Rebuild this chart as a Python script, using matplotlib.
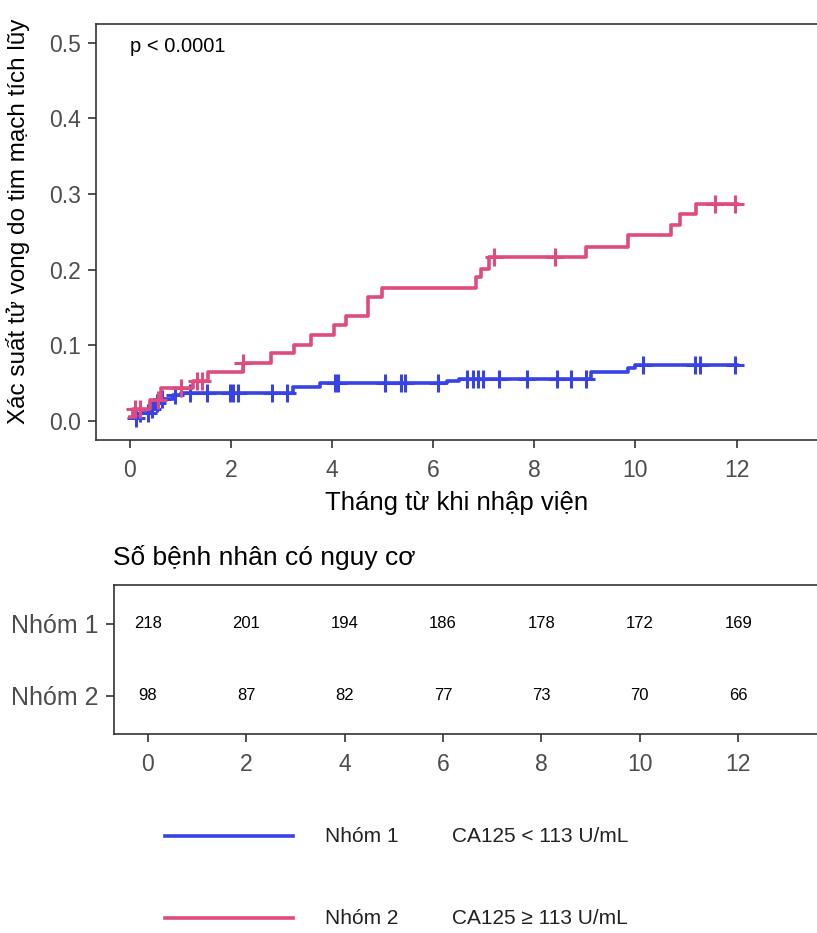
import numpy as np
import matplotlib.pyplot as plt
from matplotlib.lines import Line2D

plt.rcParams['font.family'] = ['Liberation Sans', 'DejaVu Sans']

# cumulative incidence steps (time in months, value after step)
g1_times = [0.0, 0.2, 0.39, 0.49, 0.62, 0.85, 1.02, 3.23, 3.76, 6.27, 6.5, 9.13, 9.86, 10.0]
g1_cif = [0.003, 0.010, 0.016, 0.023, 0.029, 0.034, 0.037, 0.044, 0.050, 0.052, 0.055, 0.065, 0.070, 0.074]
g1_end = 12.0
g1_censor = [0.13, 0.2, 0.36, 0.43, 0.53, 0.63, 0.89, 1.19, 1.52, 1.98, 2.04, 2.14, 2.82,
             3.10, 4.06, 4.12, 5.04, 5.37, 5.44, 6.10, 6.66, 6.79, 6.89, 6.98, 7.31, 7.86,
             8.44, 8.72, 9.03, 10.14, 11.18, 11.28, 11.97]

g2_times = [0.0, 0.06, 0.39, 0.62, 1.25, 1.54, 2.23, 2.79, 3.25, 3.58, 4.04, 4.28, 4.71,
            4.99, 6.84, 6.94, 7.11, 9.03, 9.86, 10.71, 10.88, 11.2]
g2_cif = [0.005, 0.016, 0.027, 0.043, 0.052, 0.065, 0.076, 0.089, 0.100, 0.113, 0.126, 0.138,
          0.163, 0.176, 0.190, 0.201, 0.216, 0.230, 0.246, 0.259, 0.274, 0.287]
g2_end = 12.0
g2_censor = [0.1, 0.2, 0.56, 1.02, 1.32, 1.42, 2.23, 7.2, 8.41, 11.57, 11.97]

risk_times = [0, 2, 4, 6, 8, 10, 12]
risk_g1 = [218, 201, 194, 186, 178, 172, 169]
risk_g2 = [98, 87, 82, 77, 73, 70, 66]

groups = ['Nhóm 1', 'Nhóm 2']
group_desc = ['CA125 < 113 U/mL', 'CA125 \u2265 113 U/mL']
colors = ['#3843E5', '#DF4A80']
tick_grey = '#4D4D4D'
spine_col = '#333333'


def step_value(times, vals, t):
    idx = np.searchsorted(times, t, side='right') - 1
    return np.array(vals)[idx]


W, H = 817, 933
fig = plt.figure(figsize=(W / 100, H / 100), dpi=100)


def px_axes(left, top, right, bottom):
    return fig.add_axes([left / W, 1 - bottom / H, (right - left) / W, (bottom - top) / H])


def style_axes(ax):
    ax.spines['right'].set_visible(False)
    for s in ['left', 'bottom', 'top']:
        ax.spines[s].set_color(spine_col)
        ax.spines[s].set_linewidth(1.2)
    ax.tick_params(axis='both', colors=spine_col, labelcolor=tick_grey, labelsize=16.5,
                   length=6, width=1.2, pad=5)
    ax.tick_params(axis='x', pad=8)


# main plot
ax = px_axes(96, 24, 817, 440)
style_axes(ax)
data = [(g1_times, g1_cif, g1_end, g1_censor), (g2_times, g2_cif, g2_end, g2_censor)]
for (tt, vv, tend, cens), col in zip(data, colors):
    ax.step(list(tt) + [tend], list(vv) + [vv[-1]], where='post', color=col, lw=2.6)
    ax.plot(cens, step_value(tt, vv, cens), ls='none', marker='+', color=col,
            markersize=13, markeredgewidth=2.2)
ax.set_xlim(-0.67, 13.59)
ax.set_ylim(-0.0255, 0.5247)
ax.set_xticks(risk_times)
ax.set_yticks([0.0, 0.1, 0.2, 0.3, 0.4, 0.5])
ax.set_yticklabels(['0.0', '0.1', '0.2', '0.3', '0.4', '0.5'])
ax.set_xlabel('Tháng từ khi nhập viện', fontsize=18.5, labelpad=6)
ax.set_ylabel('Xác suất tử vong do tim mạch tích lũy', fontsize=17.5)
ax.yaxis.set_label_coords(-0.092, 0.525)
ax.text(0.0, 0.495, 'p < 0.0001', fontsize=14.5, transform=ax.transData, ha='left', va='center')

# risk table
rt = px_axes(114, 585, 817, 734)
style_axes(rt)
rt.set_xlim(-0.685, 13.6)
rt.set_ylim(0.47, 2.54)
rt.set_xticks(risk_times)
rt.set_yticks([2, 1])
rt.set_yticklabels(groups, fontsize=18)
for y, counts in zip([2, 1], [risk_g1, risk_g2]):
    for t, n in zip(risk_times, counts):
        rt.text(t, y, str(n), ha='center', va='center', fontsize=12, color='black')
fig.text(113 / W, 1 - 558 / H, 'Số bệnh nhân có nguy cơ', fontsize=19, ha='left', va='center')

# legend
for i, (g, d, col) in enumerate(zip(groups, group_desc, colors)):
    yy = 1 - (836 + i * 82) / H
    fig.add_artist(Line2D([165 / W, 293 / W], [yy, yy], color=col, lw=2.6))
    fig.text(325 / W, yy, g, fontsize=15, va='center', ha='left', color='#222222')
    fig.text(452 / W, yy, d, fontsize=15, va='center', ha='left', color='#222222')

fig.savefig('out.png', dpi=100)
